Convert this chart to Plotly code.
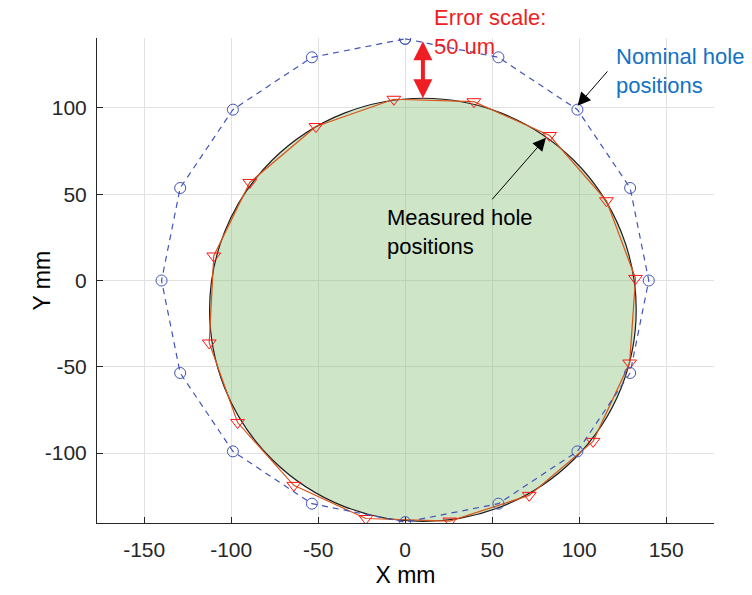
import plotly.graph_objects as go

# Nominal hole positions (mm), 16 holes on the bolt circle
nominal_x = [0.0, 53.6, 99.0, 129.3, 140.0, 129.3, 99.0, 53.6,
             0.0, -53.6, -99.0, -129.3, -140.0, -129.3, -99.0, -53.6]
nominal_y = [140.0, 129.3, 99.0, 53.6, 0.0, -53.6, -99.0, -129.3,
             -140.0, -129.3, -99.0, -53.6, 0.0, 53.6, 99.0, 129.3]

# Measured hole positions (mm, errors magnified)
measured_x = [-6.5, 39.5, 83.0, 115.7, 132.4, 129.0, 108.0, 71.3,
              25.7, -22.6, -64.0, -96.3, -112.6, -110.0, -89.3, -51.3]
measured_y = [105.0, 103.6, 84.0, 46.2, 1.2, -47.8, -93.2, -124.5,
              -139.4, -137.9, -118.7, -82.3, -36.2, 14.2, 56.8, 89.2]

# Best-fit circle through the measured holes
fit_cx = 10.2
fit_cy = -17.0
fit_r = 122.6

x_ticks = [-150, -100, -50, 0, 50, 100, 150]
x_tick_labels = ["-150", "-100", "-50", "0", "50", "100", "150"]
y_ticks = [-100, -50, 0, 50, 100]
y_tick_labels = ["-100", "-50", "0", "50", "100"]

FONT = "Liberation Sans, Arial, sans-serif"
RED = "rgb(238,30,36)"
BLUE = "rgb(66,84,184)"

fig = go.Figure()

# closed polygons
mx = measured_x + measured_x[:1]
my = measured_y + measured_y[:1]
nx = nominal_x + nominal_x[:1]
ny = nominal_y + nominal_y[:1]

fig.add_trace(go.Scatter(
    x=mx, y=my, mode="lines",
    line=dict(color="rgb(217,83,25)", width=1.2),
    hoverinfo="skip", showlegend=False))
fig.add_trace(go.Scatter(
    x=measured_x, y=measured_y, mode="markers",
    marker=dict(symbol="triangle-down-open", size=12,
                color="rgb(255,20,20)", line=dict(width=1)),
    showlegend=False))
fig.add_trace(go.Scatter(
    x=nx, y=ny, mode="lines+markers",
    line=dict(color=BLUE, width=1.2, dash="6px,5px"),
    marker=dict(symbol="circle-open", size=11, color=BLUE,
                line=dict(width=1)),
    showlegend=False))

fig.add_shape(
    type="circle", xref="x", yref="y",
    x0=fit_cx - fit_r, x1=fit_cx + fit_r,
    y0=fit_cy - fit_r, y1=fit_cy + fit_r,
    fillcolor="rgba(118,181,95,0.35)",
    line=dict(color="rgb(30,30,30)", width=1.2),
    layer="between")

# error-scale double arrow from the fitted circle to the nominal radius
fig.add_annotation(
    x=fit_cx, y=fit_cy + fit_r, ax=fit_cx, ay=nominal_y[0] - 0.5,
    xref="x", yref="y", axref="x", ayref="y",
    text="", showarrow=True, arrowhead=2, arrowside="end+start",
    arrowsize=0.95, arrowwidth=4, arrowcolor=RED)
fig.add_annotation(
    x=15.3, y=1.072, xref="x", yref="paper", xanchor="left", yanchor="top",
    text="Error scale:<br>50 um", align="left", showarrow=False,
    font=dict(family=FONT, size=22, color=RED))

# nominal label
fig.add_annotation(
    x=99.1, y=101.3, ax=117.0, ay=122.0,
    xref="x", yref="y", axref="x", ayref="y",
    text="", showarrow=True, arrowhead=2, arrowsize=2.6,
    arrowwidth=1, arrowcolor="black")
fig.add_annotation(
    x=120.0, y=121.5, xref="x", yref="y", xanchor="left", yanchor="middle",
    text="Nominal hole<br>positions", align="left", showarrow=False,
    font=dict(family=FONT, size=22, color="rgb(20,114,196)"))

# measured label
fig.add_annotation(
    x=80.9, y=82.7, ax=49.3, ay=46.2,
    xref="x", yref="y", axref="x", ayref="y",
    text="", showarrow=True, arrowhead=2, arrowsize=2.6,
    arrowwidth=1, arrowcolor="black")
fig.add_annotation(
    x=-11.7, y=28.0, xref="x", yref="y", xanchor="left", yanchor="middle",
    text="Measured hole<br>positions", align="left", showarrow=False,
    font=dict(family=FONT, size=22, color="black"))

# y-axis title
fig.add_annotation(
    x=26, y=282, xref="paper", yref="paper", showarrow=False,
    text="Y mm", textangle=-90, font=dict(family=FONT, size=23, color="black"))
fig.layout.annotations[-1].update(x=(26 - 97) / 617, y=(595 - 282 - 69) / 488)

axis_common = dict(
    showgrid=True, gridcolor="rgb(226,226,226)", gridwidth=1,
    zeroline=False, showline=True, linecolor="rgb(38,38,38)", linewidth=1,
    ticks="inside", ticklen=6, tickcolor="rgb(38,38,38)",
    tickfont=dict(family=FONT, size=21, color="rgb(38,38,38)"),
    mirror=False,
)

fig.update_layout(
    width=752, height=595,
    margin=dict(l=97, r=38, t=38, b=69),
    paper_bgcolor="white", plot_bgcolor="white",
    xaxis=dict(range=[-177.1, 177.5], tickvals=x_ticks, ticktext=x_tick_labels,
               title=dict(text="X mm", standoff=6,
                          font=dict(family=FONT, size=23, color="black")),
               ticklabelstandoff=8, **axis_common),
    yaxis=dict(range=[-140.5, 140.5], tickvals=y_ticks, ticktext=y_tick_labels,
               ticklabelstandoff=5, **axis_common),
)

fig.write_html("out.html")
